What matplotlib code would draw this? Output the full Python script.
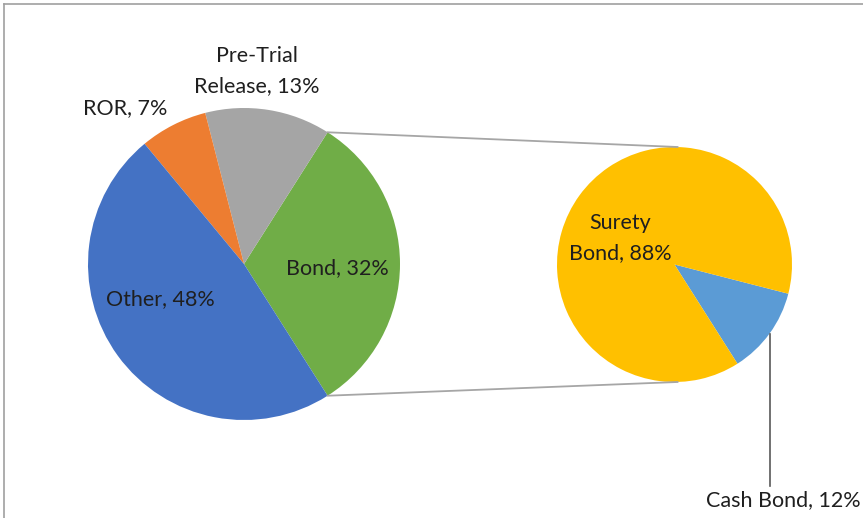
import matplotlib.pyplot as plt
import numpy as np

# Release type breakdown; "Bond" is split out in the secondary pie
main_labels = ['Bond', 'Pre-Trial\nRelease', 'ROR', 'Other']
main_values = [32, 13, 7, 48]
main_colors = ['#70AD47', '#A5A5A5', '#ED7D31', '#4472C4']

bond_labels = ['Cash Bond', 'Surety\nBond']
bond_values = [12, 88]
bond_colors = ['#5B9BD5', '#FFC000']

W, H = 863, 518
plt.rcParams['font.family'] = ['Lato', 'DejaVu Sans']

fig = plt.figure(figsize=(W / 100, H / 100), dpi=100)
ax = fig.add_axes([0, 0, 1, 1])

# pixel-like coordinates, y measured from the bottom
main_c, main_r = (244, H - 264), 156
sub_c, sub_r = (674.5, H - 264.5), 117.5

# Bond wedge is centred on the right-hand side
main_start = -main_values[0] / sum(main_values) * 360 / 2
ax.pie(main_values, colors=main_colors, startangle=main_start, counterclock=True,
       center=main_c, radius=main_r, wedgeprops=dict(linewidth=0))

sub_start = main_start
ax.pie(bond_values, colors=bond_colors, startangle=sub_start, counterclock=True,
       center=sub_c, radius=sub_r, wedgeprops=dict(linewidth=0))

# connector lines between the Bond wedge and the secondary pie
half = np.deg2rad(-main_start)
for sign in (1, -1):
    x0 = main_c[0] + main_r * np.cos(half)
    y0 = main_c[1] + sign * main_r * np.sin(half)
    x1 = sub_c[0] + 3
    y1 = sub_c[1] + sign * sub_r
    ax.plot([x0, x1], [y0, y1], color='#A6A6A6', linewidth=1.3)

text_kw = dict(fontsize=15.5, color='#1F1F1F', ha='center', va='center', linespacing=1.6)
ax.text(257, H - 71, f'{main_labels[1]}, {main_values[1]}%', **text_kw)
ax.text(125, H - 108, f'{main_labels[2]}, {main_values[2]}%', **text_kw)
ax.text(160, H - 299, f'{main_labels[3]}, {main_values[3]}%', **text_kw)
ax.text(337, H - 268, f'{main_labels[0]}, {main_values[0]}%', **text_kw)
ax.text(620, H - 238, f'{bond_labels[1]}, {bond_values[1]}%', **text_kw)

# leader line for the small Cash Bond wedge
mid = np.deg2rad(sub_start + bond_values[0] / sum(bond_values) * 360 / 2)
lx = sub_c[0] + sub_r * np.cos(mid)
ly = sub_c[1] + sub_r * np.sin(mid)
ax.plot([lx, lx], [ly, H - 486], color='#595959', linewidth=1.2)
ax.text(783, H - 500, f'{bond_labels[0]}, {bond_values[0]}%', **text_kw)

# chart frame (only top and left edges fall inside the image)
ax.plot([4, W + 10], [H - 4, H - 4], color='#A0A0A0', linewidth=1.2, clip_on=False)
ax.plot([4, 4], [H - 4, -10], color='#A0A0A0', linewidth=1.2, clip_on=False)

ax.set_xlim(0, W)
ax.set_ylim(0, H)
ax.set_aspect('auto')
ax.axis('off')

fig.savefig('out.png', dpi=100, facecolor='white')
